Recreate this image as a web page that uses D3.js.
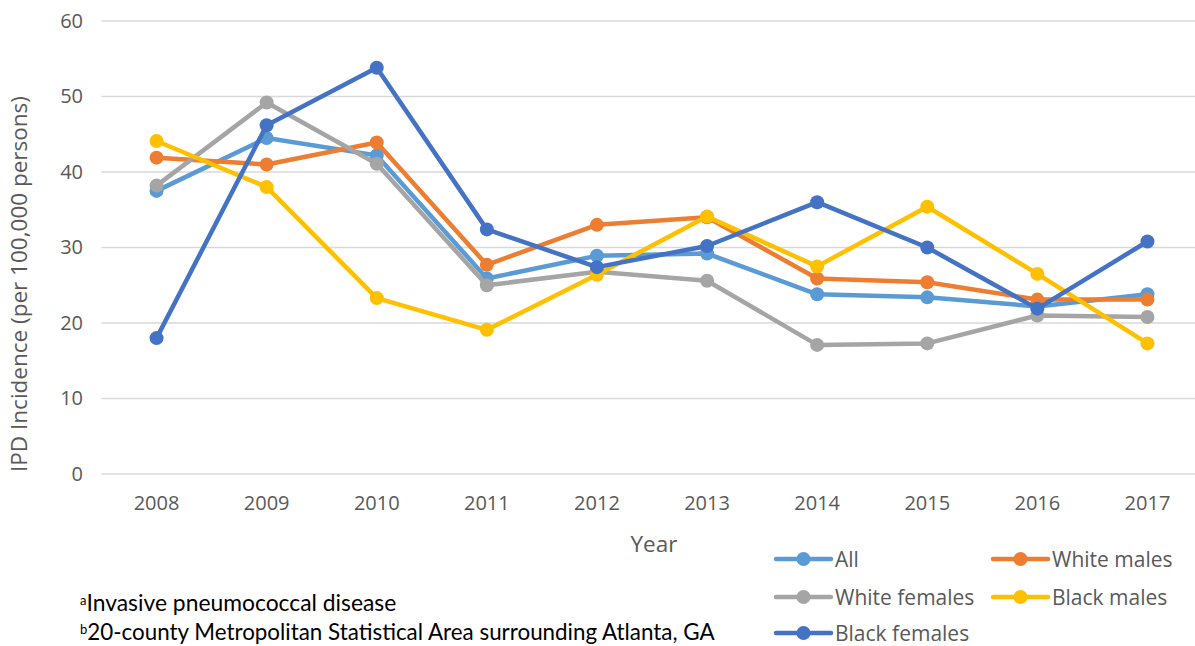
<!DOCTYPE html>
<html><head><meta charset="utf-8">
<script src="https://cdn.jsdelivr.net/npm/d3@7/dist/d3.min.js"></script>
<style>body{margin:0;background:#fff}svg{display:block}</style>
</head><body>
<svg id="chart" width="1195" height="646"></svg>
<script>
const years = ["2008","2009","2010","2011","2012","2013","2014","2015","2016","2017"];
const seriesNames = ["All","White males","White females","Black males","Black females"];
const seriesColors = ["#5B9BD5","#ED7D31","#A5A5A5","#FFC000","#4472C4"];
const allValues = [37.5,44.5,42.2,25.9,28.9,29.2,23.8,23.4,22.2,23.8];
const whiteMales = [41.9,41.0,43.9,27.7,33.0,34.0,25.9,25.4,23.1,23.1];
const whiteFemales = [38.2,49.2,41.1,25.0,26.8,25.6,17.1,17.3,21.0,20.8];
const blackMales = [44.1,38.0,23.3,19.1,26.4,34.1,27.5,35.4,26.5,17.3];
const blackFemales = [18.0,46.2,53.8,32.4,27.4,30.2,36.0,30.0,21.9,30.8];
const yTicks = [0,10,20,30,40,50,60];
const footnotes = [["a","Invasive pneumococcal disease"],["b","20-county Metropolitan Statistical Area surrounding Atlanta, GA"]];

const seriesValues = [allValues, whiteMales, whiteFemales, blackMales, blackFemales];
const svg = d3.select("#chart");
const textColor = "#595959";
const font = "'Open Sans', 'Noto Sans', sans-serif";

const x = d3.scaleBand().domain(years).range([101.5, 1202.5]);
const y = d3.scaleLinear().domain([0,60]).range([474, 21]);

// gridlines
svg.append("g").selectAll("line").data(yTicks).join("line")
  .attr("x1", 101.5).attr("x2", 1195)
  .attr("y1", d => y(d)).attr("y2", d => y(d))
  .attr("stroke", "#D9D9D9").attr("stroke-width", 1.5);

// y axis labels
const yAxis = d3.axisLeft(y).tickValues(yTicks).tickSize(0).tickPadding(0);
const gy = svg.append("g").attr("transform","translate(83,0)").call(yAxis);
gy.select(".domain").remove();
gy.selectAll("text").attr("fill", textColor).style("font-family", font).style("font-size","20px");

// x axis labels
const xAxis = d3.axisBottom(x).tickSize(0).tickPadding(0);
const gx = svg.append("g").attr("transform","translate(0,496)").call(xAxis);
gx.select(".domain").remove();
gx.selectAll("text").attr("fill", textColor).style("font-family", font).style("font-size","20px");

// axis titles
svg.append("text").attr("x", 654).attr("y", 552).attr("text-anchor","middle")
  .attr("fill", textColor).style("font-family", font).style("font-size","22.5px").text("Year");
svg.append("text").attr("transform","translate(27,284) rotate(-90)").attr("text-anchor","middle")
  .attr("fill", textColor).style("font-family", font).style("font-size","22.5px")
  .text("IPD Incidence (per 100,000 persons)");

// lines
const cx = d => x(d) + x.bandwidth()/2;
const line = d3.line().x((d,i) => cx(years[i])).y(d => y(d));
seriesValues.forEach((vals, si) => {
  const g = svg.append("g");
  g.append("path").datum(vals).attr("d", line).attr("fill","none")
    .attr("stroke", seriesColors[si]).attr("stroke-width", 4.5).attr("stroke-linejoin","round");
  g.selectAll("circle").data(vals).join("circle")
    .attr("cx", (d,i) => cx(years[i])).attr("cy", d => y(d)).attr("r", 7)
    .attr("fill", seriesColors[si]);
});

// legend
const legPos = [[776,559],[993,559],[776,597],[993,597],[776,633]];
seriesNames.forEach((name, i) => {
  const [lx, ly] = legPos[i];
  const g = svg.append("g");
  g.append("line").attr("x1", lx).attr("x2", lx+55).attr("y1", ly).attr("y2", ly)
    .attr("stroke", seriesColors[i]).attr("stroke-width", 4.5).attr("stroke-linecap","round");
  g.append("circle").attr("cx", lx+27.5).attr("cy", ly).attr("r", 7).attr("fill", seriesColors[i]);
  g.append("text").attr("x", lx+59).attr("y", ly+7.5).attr("fill", textColor)
    .style("font-family", font).style("font-size","21px").text(name);
});

// footnotes
footnotes.forEach((f, i) => {
  const t = svg.append("text").attr("x", 80).attr("y", 611 + i*29)
    .attr("fill", "#000").style("font-family", "Lato, 'Liberation Sans', sans-serif").style("font-size","20px");
  t.append("tspan").attr("dy", -6).style("font-size","13px").text(f[0]);
  const main = t.append("tspan").attr("dy", 6).text(f[1]);
  // fit second line to reference width
  if (i === 1) {
    const w = main.node().getComputedTextLength();
    const s = 20 * 628 / w;
    t.style("font-size", s + "px");
  } else {
    const w = main.node().getComputedTextLength();
    const s = 20 * 310 / w;
    t.style("font-size", s + "px");
  }
});
</script>
</body></html>
